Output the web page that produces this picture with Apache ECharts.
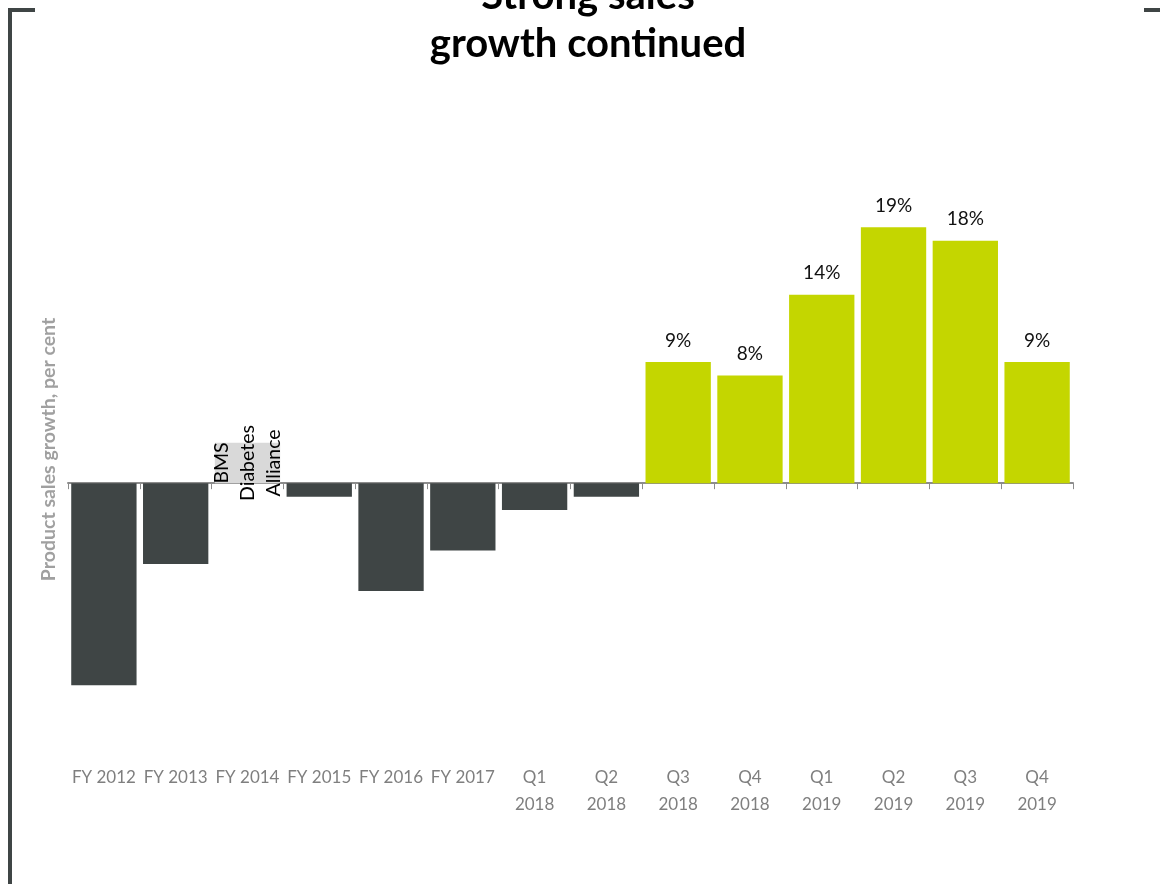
<!DOCTYPE html>
<html>
<head>
<meta charset="utf-8">
<title>Strong sales growth continued</title>
<script src="https://cdn.jsdelivr.net/npm/echarts@6/dist/echarts.min.js"></script>
<style>
  html, body { margin: 0; padding: 0; background: #ffffff; }
  #chart { width: 1160px; height: 884px; }
</style>
</head>
<body>
<div id="chart"></div>
<script>
// Periods shown along the bottom axis
const periods = [
  'FY 2012', 'FY 2013', 'FY 2014', 'FY 2015', 'FY 2016', 'FY 2017',
  'Q1\n2018', 'Q2\n2018', 'Q3\n2018', 'Q4\n2018',
  'Q1\n2019', 'Q2\n2019', 'Q3\n2019', 'Q4\n2019'
];

// Product sales growth, per cent
const growth = [-15, -6, 0, -1, -8, -5, -2, -1, 9, 8, 14, 19, 18, 9];

// Shaded note box behind the FY 2014 annotation (height in per cent units)
const noteBox = [null, null, 3, null, null, null, null, null, null, null, null, null, null, null];
const noteText = 'BMS\nDiabetes\nAlliance';

const FONT = 'Lato, "Open Sans", sans-serif';
const DARK = '#3f4545';
const GREEN = '#c4d600';

const chart = echarts.init(document.getElementById('chart'), null, { renderer: 'canvas' });

const growthData = growth.map(v => ({
  value: v,
  itemStyle: { color: v > 0 ? GREEN : DARK },
  label: { show: v > 0 }
}));

const noteData = noteBox.map(v => (v == null ? null : {
  value: v,
  label: { show: true }
}));

chart.setOption({
  animation: false,
  textStyle: { fontFamily: FONT },
  grid: { left: 68, right: 87, top: 160, bottom: 145, containLabel: false },
  graphic: [
    {
      type: 'text',
      style: {
        x: 588, y: -28,
        text: 'Strong sales\ngrowth continued',
        fontFamily: FONT, fontWeight: 'bold', fontSize: 40, lineHeight: 48,
        fill: '#000000', textAlign: 'center', textVerticalAlign: 'top'
      }
    },
    { type: 'rect', shape: { x: 8, y: 8, width: 4, height: 876 }, style: { fill: DARK } },
    { type: 'rect', shape: { x: 8, y: 8, width: 27, height: 4 }, style: { fill: DARK } },
    { type: 'rect', shape: { x: 1144, y: 8, width: 16, height: 4 }, style: { fill: DARK } }
  ],
  xAxis: [
    {
      type: 'category',
      data: periods,
      axisLine: { onZero: true, lineStyle: { color: '#8c8c8c', width: 2 } },
      axisTick: { show: true, length: 6, lineStyle: { color: '#8c8c8c', width: 1 } },
      axisLabel: { show: false },
      splitLine: { show: false }
    },
    {
      type: 'category',
      data: periods,
      position: 'bottom',
      axisLine: { show: false, onZero: false },
      axisTick: { show: false },
      axisLabel: {
        interval: 0, margin: 25,
        fontFamily: FONT, fontSize: 17, lineHeight: 27, color: '#7f7f7f'
      },
      splitLine: { show: false }
    }
  ],
  yAxis: {
    type: 'value',
    min: -19, max: 24,
    axisLine: { show: false },
    axisTick: { show: false },
    axisLabel: { show: false },
    splitLine: { show: false },
    name: 'Product sales growth, per cent',
    nameLocation: 'middle',
    nameRotate: 90,
    nameGap: 9,
    nameTextStyle: { fontFamily: FONT, fontWeight: 'bold', fontSize: 19.5, color: '#a0a0a0' }
  },
  series: [
    {
      name: 'note',
      type: 'bar',
      xAxisIndex: 0,
      data: noteData,
      barCategoryGap: '6%',
      barGap: '-100%',
      itemStyle: { color: '#d9d9d9' },
      silent: true,
      z: 1,
      label: {
        show: false,
        position: 'inside',
        rotate: 90,
        formatter: noteText,
        fontFamily: FONT, fontSize: 19.5, lineHeight: 26, color: '#000000', align: 'center',
        verticalAlign: 'middle'
      }
    },
    {
      name: 'Product sales growth',
      type: 'bar',
      xAxisIndex: 0,
      data: growthData,
      barCategoryGap: '9%',
      barGap: '-100%',
      z: 2,
      label: {
        position: 'top',
        distance: 12,
        formatter: p => p.value + '%',
        fontFamily: FONT, fontSize: 19, color: '#111111'
      }
    }
  ]
});
</script>
</body>
</html>
